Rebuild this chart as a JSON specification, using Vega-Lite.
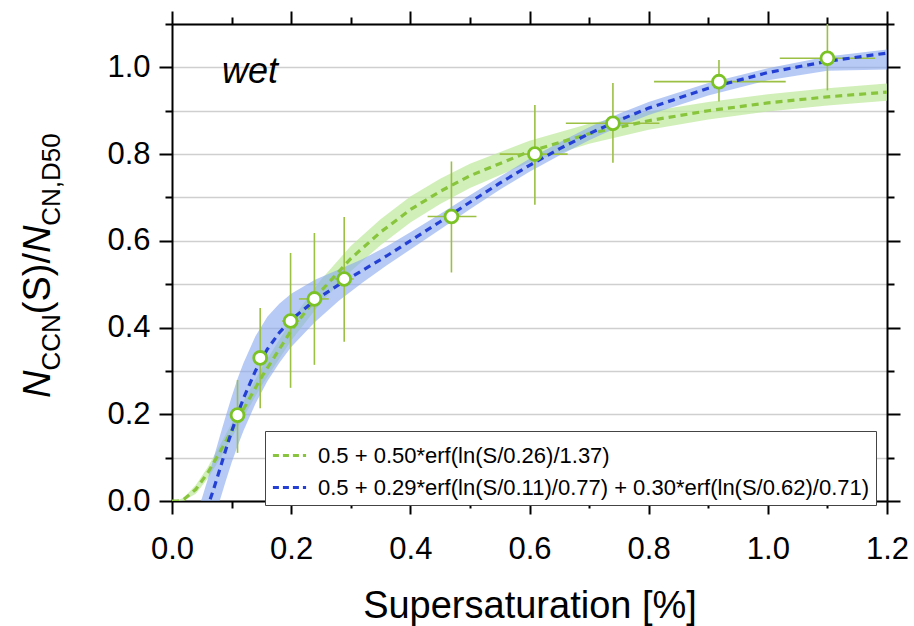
{
  "$schema": "https://vega.github.io/schema/vega-lite/v6.json",
  "width": 715,
  "height": 477,
  "autosize": "none",
  "padding": {"left": 172, "top": 24, "right": 27, "bottom": 125},
  "config": {"font": "Liberation Sans", "view": {"stroke": null}},
  "datasets": {
    "curves": [
      {"fit": "green", "S": 0.0, "y": 0.0, "lo": 0.0, "hi": 0.0},
      {"fit": "green", "S": 0.01, "y": 0.0003, "lo": 0.0, "hi": 0.002},
      {"fit": "green", "S": 0.02, "y": 0.004, "lo": 0.001, "hi": 0.008},
      {"fit": "green", "S": 0.04, "y": 0.027, "lo": 0.017, "hi": 0.037},
      {"fit": "green", "S": 0.06, "y": 0.065, "lo": 0.052, "hi": 0.078},
      {"fit": "green", "S": 0.08, "y": 0.112, "lo": 0.096, "hi": 0.128},
      {"fit": "green", "S": 0.10, "y": 0.162, "lo": 0.145, "hi": 0.179},
      {"fit": "green", "S": 0.12, "y": 0.212, "lo": 0.194, "hi": 0.23},
      {"fit": "green", "S": 0.15, "y": 0.285, "lo": 0.265, "hi": 0.305},
      {"fit": "green", "S": 0.20, "y": 0.393, "lo": 0.37, "hi": 0.416},
      {"fit": "green", "S": 0.25, "y": 0.484, "lo": 0.458, "hi": 0.51},
      {"fit": "green", "S": 0.30, "y": 0.559, "lo": 0.53, "hi": 0.588},
      {"fit": "green", "S": 0.35, "y": 0.620, "lo": 0.59, "hi": 0.65},
      {"fit": "green", "S": 0.40, "y": 0.672, "lo": 0.642, "hi": 0.702},
      {"fit": "green", "S": 0.45, "y": 0.714, "lo": 0.685, "hi": 0.743},
      {"fit": "green", "S": 0.50, "y": 0.750, "lo": 0.722, "hi": 0.778},
      {"fit": "green", "S": 0.60, "y": 0.806, "lo": 0.781, "hi": 0.831},
      {"fit": "green", "S": 0.70, "y": 0.847, "lo": 0.824, "hi": 0.87},
      {"fit": "green", "S": 0.80, "y": 0.877, "lo": 0.856, "hi": 0.898},
      {"fit": "green", "S": 0.90, "y": 0.900, "lo": 0.88, "hi": 0.92},
      {"fit": "green", "S": 1.00, "y": 0.918, "lo": 0.898, "hi": 0.938},
      {"fit": "green", "S": 1.10, "y": 0.932, "lo": 0.912, "hi": 0.952},
      {"fit": "green", "S": 1.20, "y": 0.943, "lo": 0.923, "hi": 0.963},
      {"fit": "blue", "S": 0.04, "y": -0.072, "lo": -0.14, "hi": -0.02},
      {"fit": "blue", "S": 0.05, "y": -0.047, "lo": -0.12, "hi": 0.005},
      {"fit": "blue", "S": 0.06, "y": -0.013, "lo": -0.085, "hi": 0.05},
      {"fit": "blue", "S": 0.07, "y": 0.028, "lo": -0.045, "hi": 0.1},
      {"fit": "blue", "S": 0.08, "y": 0.072, "lo": 0.0, "hi": 0.148},
      {"fit": "blue", "S": 0.09, "y": 0.117, "lo": 0.045, "hi": 0.195},
      {"fit": "blue", "S": 0.10, "y": 0.160, "lo": 0.088, "hi": 0.24},
      {"fit": "blue", "S": 0.11, "y": 0.200, "lo": 0.126, "hi": 0.282},
      {"fit": "blue", "S": 0.12, "y": 0.237, "lo": 0.162, "hi": 0.318},
      {"fit": "blue", "S": 0.14, "y": 0.300, "lo": 0.224, "hi": 0.38},
      {"fit": "blue", "S": 0.16, "y": 0.350, "lo": 0.276, "hi": 0.425},
      {"fit": "blue", "S": 0.18, "y": 0.388, "lo": 0.318, "hi": 0.455},
      {"fit": "blue", "S": 0.20, "y": 0.418, "lo": 0.355, "hi": 0.478},
      {"fit": "blue", "S": 0.24, "y": 0.463, "lo": 0.413, "hi": 0.51},
      {"fit": "blue", "S": 0.28, "y": 0.499, "lo": 0.462, "hi": 0.534},
      {"fit": "blue", "S": 0.32, "y": 0.532, "lo": 0.504, "hi": 0.558},
      {"fit": "blue", "S": 0.36, "y": 0.565, "lo": 0.543, "hi": 0.587},
      {"fit": "blue", "S": 0.40, "y": 0.600, "lo": 0.58, "hi": 0.62},
      {"fit": "blue", "S": 0.45, "y": 0.644, "lo": 0.626, "hi": 0.662},
      {"fit": "blue", "S": 0.50, "y": 0.689, "lo": 0.673, "hi": 0.705},
      {"fit": "blue", "S": 0.55, "y": 0.733, "lo": 0.718, "hi": 0.748},
      {"fit": "blue", "S": 0.60, "y": 0.774, "lo": 0.759, "hi": 0.789},
      {"fit": "blue", "S": 0.65, "y": 0.812, "lo": 0.797, "hi": 0.827},
      {"fit": "blue", "S": 0.70, "y": 0.847, "lo": 0.832, "hi": 0.862},
      {"fit": "blue", "S": 0.75, "y": 0.878, "lo": 0.863, "hi": 0.893},
      {"fit": "blue", "S": 0.80, "y": 0.906, "lo": 0.89, "hi": 0.92},
      {"fit": "blue", "S": 0.90, "y": 0.952, "lo": 0.935, "hi": 0.964},
      {"fit": "blue", "S": 1.00, "y": 0.988, "lo": 0.97, "hi": 0.998},
      {"fit": "blue", "S": 1.10, "y": 1.014, "lo": 0.992, "hi": 1.025},
      {"fit": "blue", "S": 1.20, "y": 1.033, "lo": 0.995, "hi": 1.041}
    ],
    "points": [
      {"S": 0.110, "N": 0.198, "xlo": 0.102, "xhi": 0.118, "ylo": 0.111, "yhi": 0.279},
      {"S": 0.148, "N": 0.330, "xlo": 0.138, "xhi": 0.158, "ylo": 0.214, "yhi": 0.445},
      {"S": 0.199, "N": 0.415, "xlo": 0.185, "xhi": 0.213, "ylo": 0.261, "yhi": 0.572},
      {"S": 0.239, "N": 0.466, "xlo": 0.213, "xhi": 0.263, "ylo": 0.314, "yhi": 0.618},
      {"S": 0.289, "N": 0.512, "xlo": 0.273, "xhi": 0.305, "ylo": 0.367, "yhi": 0.655},
      {"S": 0.469, "N": 0.656, "xlo": 0.429, "xhi": 0.511, "ylo": 0.527, "yhi": 0.783},
      {"S": 0.609, "N": 0.800, "xlo": 0.550, "xhi": 0.664, "ylo": 0.683, "yhi": 0.913},
      {"S": 0.740, "N": 0.871, "xlo": 0.661, "xhi": 0.818, "ylo": 0.780, "yhi": 0.964},
      {"S": 0.918, "N": 0.967, "xlo": 0.809, "xhi": 1.030, "ylo": 0.921, "yhi": 1.017},
      {"S": 1.100, "N": 1.021, "xlo": 1.020, "xhi": 1.180, "ylo": 0.947, "yhi": 1.120}
    ]
  },
  "resolve": {"axis": {"x": "independent", "y": "independent"}},
  "layer": [
    {
      "data": {"name": "curves"},
      "transform": [{"filter": "datum.fit === 'green'"}],
      "mark": {"type": "area", "color": "#c2e9a0", "opacity": 0.75, "clip": true},
      "encoding": {
        "x": {
          "field": "S", "type": "quantitative",
          "scale": {"domain": [0, 1.2], "nice": false, "zero": false},
          "axis": {
            "values": [0, 0.1, 0.2, 0.3, 0.4, 0.5, 0.6, 0.7, 0.8, 0.9, 1.0, 1.1, 1.2],
            "labelExpr": "round(datum.value * 10) % 2 === 0 ? format(datum.value, '.1f') : ''",
            "tickSize": {"condition": {"test": "round(datum.value * 10) % 2 === 0", "value": 13}, "value": 7},
            "tickWidth": 2, "tickColor": "black",
            "domainColor": "black", "domainWidth": 2,
            "labelFontSize": 31, "labelColor": "black", "labelPadding": 20,
            "labelFlush": false, "labelOverlap": false, "labelBound": false,
            "grid": false,
            "title": "Supersaturation [%]", "titleFontSize": 38, "titleFontWeight": "normal",
            "titleColor": "black", "titlePadding": 23
          }
        },
        "y": {
          "field": "lo", "type": "quantitative",
          "scale": {"domain": [0, 1.1], "nice": false, "zero": false},
          "axis": {
            "values": [0, 0.1, 0.2, 0.3, 0.4, 0.5, 0.6, 0.7, 0.8, 0.9, 1.0, 1.1],
            "labelExpr": "round(datum.value * 10) % 2 === 0 ? format(datum.value, '.1f') : ''",
            "tickSize": {"condition": {"test": "round(datum.value * 10) % 2 === 0", "value": 13}, "value": 7},
            "tickWidth": 2, "tickColor": "black",
            "domainColor": "black", "domainWidth": 2,
            "labelFontSize": 31, "labelColor": "black", "labelPadding": 9,
            "labelFlush": false, "labelOverlap": false, "labelBound": false,
            "grid": true, "gridColor": "#cfcfcf", "gridWidth": 1.5,
            "title": null
          }
        },
        "y2": {"field": "hi"}
      }
    },
    {
      "data": {"name": "curves"},
      "transform": [{"filter": "datum.fit === 'blue'"}],
      "mark": {"type": "area", "color": "#86a6ee", "opacity": 0.6, "clip": true},
      "encoding": {
        "x": {"field": "S", "type": "quantitative", "scale": {"domain": [0, 1.2], "nice": false, "zero": false}, "axis": null},
        "y": {"field": "lo", "type": "quantitative", "scale": {"domain": [0, 1.1], "nice": false, "zero": false}, "axis": null},
        "y2": {"field": "hi"}
      }
    },
    {
      "data": {"name": "points"},
      "mark": {"type": "rule", "color": "#9cc044", "strokeWidth": 1.6, "clip": true},
      "encoding": {
        "x": {"field": "S", "type": "quantitative", "scale": {"domain": [0, 1.2], "nice": false, "zero": false}, "axis": null},
        "y": {"field": "ylo", "type": "quantitative", "scale": {"domain": [0, 1.1], "nice": false, "zero": false}, "axis": null},
        "y2": {"field": "yhi"}
      }
    },
    {
      "data": {"name": "points"},
      "mark": {"type": "rule", "color": "#9cc044", "strokeWidth": 1.6, "clip": true},
      "encoding": {
        "x": {"field": "xlo", "type": "quantitative", "scale": {"domain": [0, 1.2], "nice": false, "zero": false}, "axis": null},
        "x2": {"field": "xhi"},
        "y": {"field": "N", "type": "quantitative", "scale": {"domain": [0, 1.1], "nice": false, "zero": false}, "axis": null}
      }
    },
    {
      "data": {"name": "curves"},
      "mark": {"type": "line", "strokeDash": [7, 5], "strokeWidth": 3.2, "clip": true},
      "encoding": {
        "x": {"field": "S", "type": "quantitative", "scale": {"domain": [0, 1.2], "nice": false, "zero": false}, "axis": null},
        "y": {"field": "y", "type": "quantitative", "scale": {"domain": [0, 1.1], "nice": false, "zero": false}, "axis": null},
        "color": {
          "field": "fit", "type": "nominal",
          "scale": {"domain": ["green", "blue"], "range": ["#88c43c", "#2440d4"]},
          "legend": {
            "title": null,
            "orient": "none", "legendX": 93, "legendY": 407,
            "symbolType": "stroke", "symbolDash": [6, 4], "symbolStrokeWidth": 3, "symbolSize": 1100,
            "labelExpr": "datum.value === 'green' ? '0.5 + 0.50*erf(ln(S/0.26)/1.37)' : '0.5 + 0.29*erf(ln(S/0.11)/0.77) + 0.30*erf(ln(S/0.62)/0.71)'",
            "labelFontSize": 22, "labelColor": "black", "labelLimit": 800, "labelOffset": 10,
            "strokeColor": "#444444", "fillColor": "white", "padding": 6, "rowPadding": 2
          }
        }
      }
    },
    {
      "data": {"name": "points"},
      "mark": {"type": "circle", "fill": "white", "stroke": "#7bc225", "strokeWidth": 2.8, "size": 165, "opacity": 1},
      "encoding": {
        "x": {
          "field": "S", "type": "quantitative",
          "scale": {"domain": [0, 1.2], "nice": false, "zero": false},
          "axis": {
            "orient": "top", "title": null, "labels": false, "grid": false,
            "values": [0, 0.1, 0.2, 0.3, 0.4, 0.5, 0.6, 0.7, 0.8, 0.9, 1.0, 1.1, 1.2],
            "tickSize": {"condition": {"test": "round(datum.value * 10) % 2 === 0", "value": 13}, "value": 7},
            "tickWidth": 2, "tickColor": "black", "domainColor": "black", "domainWidth": 2
          }
        },
        "y": {
          "field": "N", "type": "quantitative",
          "scale": {"domain": [0, 1.1], "nice": false, "zero": false},
          "axis": {
            "orient": "right", "title": null, "labels": false, "grid": false,
            "values": [0, 0.1, 0.2, 0.3, 0.4, 0.5, 0.6, 0.7, 0.8, 0.9, 1.0, 1.1],
            "tickSize": {"condition": {"test": "round(datum.value * 10) % 2 === 0", "value": 13}, "value": 7},
            "tickWidth": 2, "tickColor": "black", "domainColor": "black", "domainWidth": 2
          }
        }
      }
    },
    {
      "data": {"values": [{"label": "wet"}]},
      "mark": {"type": "text", "align": "left", "baseline": "alphabetic", "fontSize": 36, "fontStyle": "italic", "color": "black"},
      "encoding": {
        "x": {"datum": 0.084, "type": "quantitative", "scale": {"domain": [0, 1.2], "nice": false, "zero": false}, "axis": null},
        "y": {"datum": 0.964, "type": "quantitative", "scale": {"domain": [0, 1.1], "nice": false, "zero": false}, "axis": null},
        "text": {"field": "label"}
      }
    },
    {
      "data": {"values": [{"label": "N"}]},
      "mark": {"type": "text", "angle": 270, "align": "left", "baseline": "alphabetic", "fontSize": 38, "fontStyle": "italic", "color": "black"},
      "encoding": {
        "x": {"datum": -0.2048, "type": "quantitative", "scale": {"domain": [0, 1.2], "nice": false, "zero": false}, "axis": null},
        "y": {"datum": 0.2375, "type": "quantitative", "scale": {"domain": [0, 1.1], "nice": false, "zero": false}, "axis": null},
        "text": {"field": "label"}
      }
    },
    {
      "data": {"values": [{"label": "CCN"}]},
      "mark": {"type": "text", "angle": 270, "align": "left", "baseline": "alphabetic", "fontSize": 26, "dy": 10, "color": "black"},
      "encoding": {
        "x": {"datum": -0.2048, "type": "quantitative", "scale": {"domain": [0, 1.2], "nice": false, "zero": false}, "axis": null},
        "y": {"datum": 0.3007, "type": "quantitative", "scale": {"domain": [0, 1.1], "nice": false, "zero": false}, "axis": null},
        "text": {"field": "label"}
      }
    },
    {
      "data": {"values": [{"label": "(S)/"}]},
      "mark": {"type": "text", "angle": 270, "align": "left", "baseline": "alphabetic", "fontSize": 38, "color": "black"},
      "encoding": {
        "x": {"datum": -0.2048, "type": "quantitative", "scale": {"domain": [0, 1.2], "nice": false, "zero": false}, "axis": null},
        "y": {"datum": 0.4306, "type": "quantitative", "scale": {"domain": [0, 1.1], "nice": false, "zero": false}, "axis": null},
        "text": {"field": "label"}
      }
    },
    {
      "data": {"values": [{"label": "N"}]},
      "mark": {"type": "text", "angle": 270, "align": "left", "baseline": "alphabetic", "fontSize": 38, "fontStyle": "italic", "color": "black"},
      "encoding": {
        "x": {"datum": -0.2048, "type": "quantitative", "scale": {"domain": [0, 1.2], "nice": false, "zero": false}, "axis": null},
        "y": {"datum": 0.5717, "type": "quantitative", "scale": {"domain": [0, 1.1], "nice": false, "zero": false}, "axis": null},
        "text": {"field": "label"}
      }
    },
    {
      "data": {"values": [{"label": "CN,D50"}]},
      "mark": {"type": "text", "angle": 270, "align": "left", "baseline": "alphabetic", "fontSize": 26, "dy": 10, "color": "black"},
      "encoding": {
        "x": {"datum": -0.2048, "type": "quantitative", "scale": {"domain": [0, 1.2], "nice": false, "zero": false}, "axis": null},
        "y": {"datum": 0.6349, "type": "quantitative", "scale": {"domain": [0, 1.1], "nice": false, "zero": false}, "axis": null},
        "text": {"field": "label"}
      }
    }
  ]
}
